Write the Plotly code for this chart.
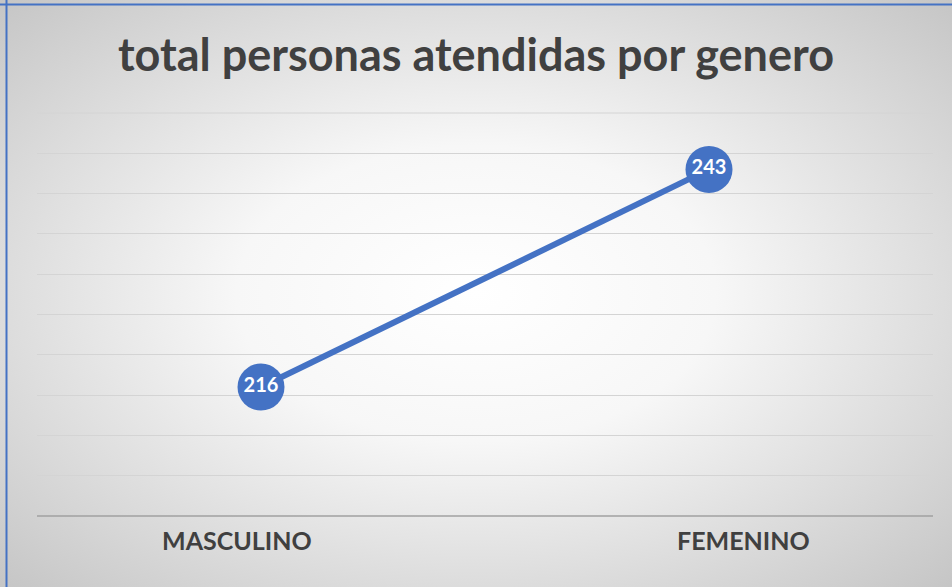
import plotly.graph_objects as go
import base64

categories = ["MASCULINO", "FEMENINO"]
values = [216, 243]
title_text = "total personas atendidas por genero"

W, H = 952, 587
ml, mr, mt, mb = 37, 19, 113, 71
pw, ph = W - ml - mr, H - mt - mb

svg = f'''<svg xmlns="http://www.w3.org/2000/svg" width="{W}" height="{H}" viewBox="0 0 {W} {H}" preserveAspectRatio="none">
<defs><radialGradient id="g" cx="0.5" cy="0.5" r="0.72" gradientUnits="objectBoundingBox">
<stop offset="0" stop-color="#ffffff"/><stop offset="0.35" stop-color="#f7f7f7"/><stop offset="1" stop-color="#c4c4c4"/></radialGradient></defs>
<rect x="0" y="0" width="{W}" height="{H}" fill="url(#g)"/>
<line x1="0" y1="4.5" x2="{W}" y2="4.5" stroke="#4472C4" stroke-width="2"/>
<line x1="6.5" y1="0" x2="6.5" y2="{H}" stroke="#4472C4" stroke-width="2"/>
</svg>'''
src = "data:image/svg+xml;base64," + base64.b64encode(svg.encode()).decode()

fig = go.Figure()
fig.add_trace(go.Scatter(
    x=categories, y=values, mode="lines+markers+text",
    line=dict(color="#4472C4", width=6),
    marker=dict(size=47, color="#4472C4"),
    text=[str(v) for v in values], textposition="middle center",
    textfont=dict(family="Lato", size=20, color="white", weight="bold"),
    hoverinfo="skip", cliponaxis=False,
))

label_shift = [-24, 34]
annotations = [
    dict(x=c, y=0, xref="x", yref="paper", text=c, showarrow=False,
         xanchor="center", yanchor="middle", yshift=-24, xshift=s,
         font=dict(family="Lato", size=25, color="#404040", weight="bold"))
    for c, s in zip(categories, label_shift)
]

fig.update_layout(
    width=W, height=H,
    margin=dict(l=ml, r=mr, t=mt, b=mb),
    paper_bgcolor="#e0e0e0", plot_bgcolor="rgba(0,0,0,0)",
    showlegend=False,
    title=dict(text=title_text, x=0.5, xanchor="center", y=1 - 55 / H, yanchor="middle",
               font=dict(family="Lato", size=45, color="#404040", weight="bold")),
    images=[dict(source=src, xref="paper", yref="paper", x=-ml / pw, y=1 + mt / ph,
                 sizex=W / pw, sizey=H / ph, sizing="stretch", layer="below",
                 xanchor="left", yanchor="top")],
    xaxis=dict(type="category", range=[-0.5, 1.5], showgrid=False, zeroline=False,
               showline=False, ticks="", showticklabels=False),
    yaxis=dict(range=[200, 250], dtick=5, showgrid=True, gridcolor="#d4d4d4", gridwidth=1,
               showticklabels=False, zeroline=False, showline=False, ticks=""),
    annotations=annotations,
    shapes=[dict(type="line", xref="paper", yref="paper", x0=0, x1=1, y0=0, y1=0,
                 line=dict(color="#a0a0a0", width=1.5)),
            dict(type="line", xref="paper", yref="paper", x0=0, x1=1, y0=1, y1=1,
                 line=dict(color="#d4d4d4", width=1), layer="below")],
)

fig.write_html("out.html", config={"displayModeBar": False},
               post_script="document.body.style.margin='0';")
